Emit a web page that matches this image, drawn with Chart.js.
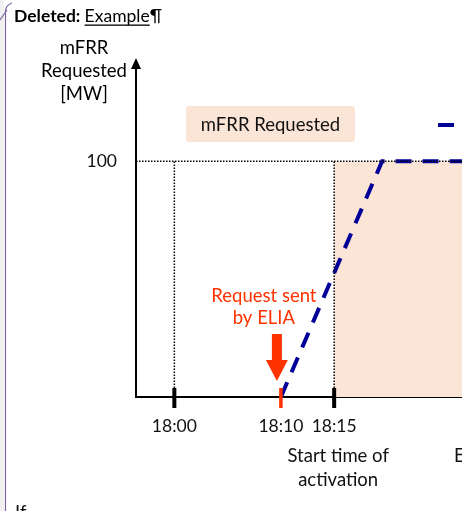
<!DOCTYPE html>
<html>
<head>
<meta charset="utf-8">
<script src="https://cdn.jsdelivr.net/npm/chart.js@4.4.1/dist/chart.umd.min.js"></script>
<style>
  html, body { margin: 0; padding: 0; background: #fff; overflow: hidden; }
  #wrap { width: 462px; height: 511px; }
</style>
</head>
<body>
<div id="wrap"><canvas id="mfrrChart" width="462" height="511"></canvas></div>
<script>
// data (x = minutes after 18:00, y = MW)
const tickMinutes = [0, 10, 15];
const tickLabels = ['18:00', '18:10', '18:15'];
const yTickValues = [100];
const requestedX = [10, 19.5, 27];
const requestedY = [0, 100, 100];
const requestSentAt = 10;
const activationStartAt = 15;
const fullMW = 100;
const xMin = -3.6, xMax = 27, yMax = 140;

const FONT = 'Lato, "Open Sans", sans-serif';
const NAVY = '#000099';
const RED = '#FF3300';
const PEACH = '#FBE5D6';
const TXT = '18.5px ' + FONT;

function pts(xs, ys) { return xs.map((x, i) => ({ x: x, y: ys[i] })); }

const annotationPlugin = {
  id: 'annotations',
  beforeDraw(chart) {
    const ctx = chart.ctx;
    ctx.save();
    ctx.fillStyle = '#fff';
    ctx.fillRect(0, 0, chart.width, chart.height);
    // word margin strip + comment balloon border
    ctx.fillStyle = '#F0F0F0';
    ctx.fillRect(0, 0, 4, chart.height);
    ctx.strokeStyle = '#8064A2';
    ctx.lineWidth = 1.2;
    ctx.beginPath();
    ctx.moveTo(5.5, chart.height);
    ctx.lineTo(5.5, 12);
    ctx.quadraticCurveTo(5.5, 5, 12, 3);
    ctx.stroke();
    ctx.beginPath();
    ctx.moveTo(0, 20);
    ctx.lineTo(7, 10);
    ctx.stroke();
    ctx.restore();
  },
  afterDraw(chart) {
    const ctx = chart.ctx;
    const xs = chart.scales.x;
    const area = chart.chartArea;
    ctx.save();

    // header "Deleted: Example¶"
    ctx.textBaseline = 'alphabetic';
    ctx.textAlign = 'left';
    ctx.fillStyle = '#000';
    ctx.font = 'bold 17.5px ' + FONT;
    ctx.fillText('Deleted:', 14, 22);
    let hx = 14 + ctx.measureText('Deleted: ').width;
    ctx.font = '17.5px ' + FONT;
    ctx.fillText('Example', hx, 22);
    const ew = ctx.measureText('Example').width;
    ctx.fillRect(hx, 24.5, ew, 1.3);
    ctx.fillText('\u00B6', hx + ew, 22);

    // y-axis title
    ctx.font = TXT;
    ctx.textAlign = 'center';
    ctx.fillText('mFRR', 84, 54);
    ctx.fillText('Requested', 84, 76.5);
    ctx.fillText('[MW]', 84, 99.5);

    // y-axis arrow head
    ctx.beginPath();
    ctx.moveTo(area.left, area.top - 9);
    ctx.lineTo(area.left - 5, area.top + 2);
    ctx.lineTo(area.left + 5, area.top + 2);
    ctx.closePath();
    ctx.fill();

    // x tick marks across the axis
    tickMinutes.forEach(v => {
      const px = xs.getPixelForValue(v);
      ctx.fillStyle = v === requestSentAt ? RED : '#000';
      const w = v === requestSentAt ? 3.5 : 4;
      ctx.fillRect(px - w / 2, area.bottom - 9, w, 20);
    });

    // shaded-region label
    const bx0 = 186, by0 = 106, bx1 = 355, by1 = 142;
    ctx.fillStyle = PEACH;
    ctx.beginPath();
    ctx.roundRect(bx0, by0, bx1 - bx0, by1 - by0, 3);
    ctx.fill();
    ctx.fillStyle = '#111';
    ctx.font = TXT;
    ctx.fillText('mFRR Requested', (bx0 + bx1) / 2, 131);

    // legend sample of the dashed line, cut at the edge
    ctx.strokeStyle = NAVY;
    ctx.lineWidth = 4;
    ctx.setLineDash([16, 11]);
    ctx.beginPath();
    ctx.moveTo(438, 125);
    ctx.lineTo(chart.width + 5, 125);
    ctx.stroke();
    ctx.setLineDash([]);

    // request arrow + text
    const rx = xs.getPixelForValue(requestSentAt);
    const ax = rx - 4;
    ctx.fillStyle = RED;
    ctx.fillRect(ax - 5, area.bottom - 63, 10, 27);
    ctx.beginPath();
    ctx.moveTo(ax - 11, area.bottom - 37);
    ctx.lineTo(ax + 11, area.bottom - 37);
    ctx.lineTo(ax, area.bottom - 16);
    ctx.closePath();
    ctx.fill();
    ctx.fillText('Request sent', rx - 17, 302);
    ctx.fillText('by ELIA', rx - 17, 324);

    // activation label under 18:15
    const sx = xs.getPixelForValue(activationStartAt);
    ctx.fillStyle = '#111';
    ctx.fillText('Start time of', sx + 4, 462);
    ctx.fillText('activation', sx + 4, 486);
    ctx.textAlign = 'left';
    ctx.fillText('E', 454, 462);

    // next paragraph of the document
    ctx.fillText('If', 15, 519);
    ctx.restore();
  }
};

const dotted = { borderColor: '#000', borderWidth: 1.5, borderDash: [1.5, 1.5], pointRadius: 0, fill: false };

new Chart(document.getElementById('mfrrChart'), {
  type: 'line',
  data: {
    datasets: [
      Object.assign({ data: pts([xMin, xMax], [fullMW, fullMW]), order: 0 }, dotted),
      Object.assign({ data: pts([tickMinutes[0], tickMinutes[0]], [0, fullMW]), order: 0 }, dotted),
      Object.assign({ data: pts([activationStartAt, activationStartAt], [0, fullMW]), order: 0 }, dotted),
      { data: pts(requestedX, requestedY), borderColor: NAVY, borderWidth: 4, borderDash: [16, 11], pointRadius: 0, fill: false, order: 1 },
      { data: pts([activationStartAt, xMax], [fullMW, fullMW]), borderWidth: 0, backgroundColor: PEACH, pointRadius: 0, fill: 'origin', order: 2 }
    ]
  },
  options: {
    responsive: false,
    animation: false,
    layout: { padding: { top: 67, right: 0, left: 0, bottom: 0 } },
    plugins: { legend: { display: false }, tooltip: { enabled: false } },
    scales: {
      x: {
        type: 'linear', min: xMin, max: xMax,
        afterFit: s => { s.height = 114; },
        afterBuildTicks: s => { s.ticks = tickMinutes.map(v => ({ value: v })); },
        grid: { display: false, drawTicks: false },
        border: { display: true, color: '#000', width: 2 },
        ticks: {
          autoSkip: false, maxRotation: 0, padding: 19, color: '#111',
          font: { family: FONT, size: 17.5 },
          callback: v => tickLabels[tickMinutes.indexOf(v)]
        }
      },
      y: {
        type: 'linear', min: 0, max: yMax,
        afterFit: s => { s.width = 136; },
        afterBuildTicks: s => { s.ticks = yTickValues.map(v => ({ value: v })); },
        grid: { display: false, drawTicks: false },
        border: { display: true, color: '#000', width: 2 },
        ticks: { padding: 19, color: '#111', font: { family: FONT, size: 17.5 } }
      }
    }
  },
  plugins: [annotationPlugin]
});
</script>
</body>
</html>
